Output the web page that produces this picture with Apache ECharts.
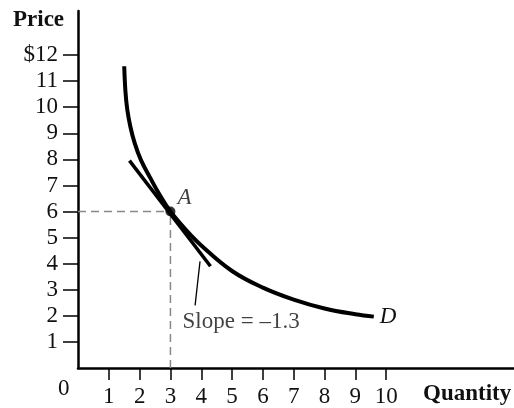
<!DOCTYPE html>
<html><head><meta charset="utf-8">
<script src="https://cdn.jsdelivr.net/npm/echarts@6/dist/echarts.min.js"></script>
<style>html,body{margin:0;padding:0;background:#fff}#c{width:514px;height:408px}</style>
</head><body><div id="c"></div>
<script>
// Demand curve D (quantity, price)
const demandQ = [1.50, 1.54, 1.60, 1.70, 1.84, 2.04, 2.34, 2.66, 3.0, 3.5, 4.0, 5.0, 6.0, 7.0, 8.0, 9.0, 9.6];
const demandP = [11.57, 10.6, 9.9, 9.25, 8.62, 7.98, 7.3, 6.62, 6.0, 5.3, 4.7, 3.72, 3.08, 2.62, 2.28, 2.06, 1.97];
// Tangent line at A
const tangentQ = [1.67, 4.3];
const tangentP = [7.95, 3.9];
// Point A
const pointA = [3, 6];
// Leader line to the slope label
const leaderQ = [3.96, 3.8];
const leaderP = [4.09, 2.4];
// Tick labels
const xTicks = [1, 2, 3, 4, 5, 6, 7, 8, 9, 10];
const yTicks = [1, 2, 3, 4, 5, 6, 7, 8, 9, 10, 11, 12];
const slopeText = 'Slope = \u20131.3';

const serif = '"Liberation Serif","DejaVu Serif",serif';
const demand = demandQ.map((q, i) => [q, demandP[i]]);
const tangent = tangentQ.map((q, i) => [q, tangentP[i]]);
const leader = leaderQ.map((q, i) => [q, leaderP[i]]);

const chart = echarts.init(document.getElementById('c'), null, {renderer: 'canvas'});
chart.setOption({
  animation: false,
  backgroundColor: '#fff',
  grid: {left: 78, top: 11, right: 0, bottom: 37, containLabel: false},
  xAxis: {
    type: 'value', min: 0, max: 14.15,
    axisLine: {show: true, lineStyle: {color: '#000', width: 2.5}},
    axisTick: {show: true, length: 12, lineStyle: {color: '#000', width: 1.5}, customValues: xTicks},
    axisLabel: {margin: 17, color: '#111', fontFamily: serif, fontSize: 23, customValues: xTicks},
    splitLine: {show: false}
  },
  yAxis: {
    type: 'value', min: 0, max: 13.69,
    axisLine: {show: true, lineStyle: {color: '#000', width: 2.5}},
    axisTick: {show: true, length: 15, lineStyle: {color: '#000', width: 1.5}, customValues: yTicks},
    axisLabel: {margin: 20, color: '#111', fontFamily: serif, fontSize: 23, customValues: yTicks,
      formatter: v => v === 12 ? '$12' : String(v)},
    splitLine: {show: false}
  },
  graphic: [
    {type: 'text', left: 13, top: 9, style: {text: 'Price', font: 'bold 23px ' + serif, fill: '#111'}},
    {type: 'text', left: 423, top: 383, style: {text: 'Quantity', font: 'bold 23px ' + serif, fill: '#111'}},
    {type: 'text', left: 58, top: 377, style: {text: '0', font: '23px ' + serif, fill: '#111'}}
  ],
  series: [
    {type: 'line', data: [[0, pointA[1]], pointA], symbol: 'none', silent: true,
      lineStyle: {color: '#888', width: 1.5, type: [8, 5]}},
    {type: 'line', data: [[pointA[0], 0], pointA], symbol: 'none', silent: true,
      lineStyle: {color: '#888', width: 1.5, type: [8, 5]}},
    {type: 'line', data: demand, symbol: 'none', smooth: 0.4, silent: true,
      lineStyle: {color: '#000', width: 4, cap: 'butt'},
      endLabel: {show: true, formatter: 'D', fontFamily: serif, fontStyle: 'italic', fontSize: 23, color: '#111', distance: 6}},
    {type: 'line', data: tangent, symbol: 'none', silent: true,
      lineStyle: {color: '#000', width: 3.5}},
    {type: 'line', data: leader, symbol: 'none', silent: true,
      lineStyle: {color: '#000', width: 1.3}},
    {type: 'scatter', data: [pointA], symbol: 'circle', symbolSize: 10, silent: true,
      itemStyle: {color: '#000'},
      label: {show: true, formatter: 'A', position: 'right', distance: 2, offset: [0, -14], fontFamily: serif, fontStyle: 'italic', fontSize: 23, color: '#111'}},
    {type: 'scatter', data: [[leaderQ[1], leaderP[1]]], symbolSize: 0, silent: true,
      label: {show: true, formatter: slopeText, position: 'bottom', distance: 0, offset: [46, 5], fontFamily: serif, fontSize: 23, color: '#111'}}
  ]
});
</script></body></html>
